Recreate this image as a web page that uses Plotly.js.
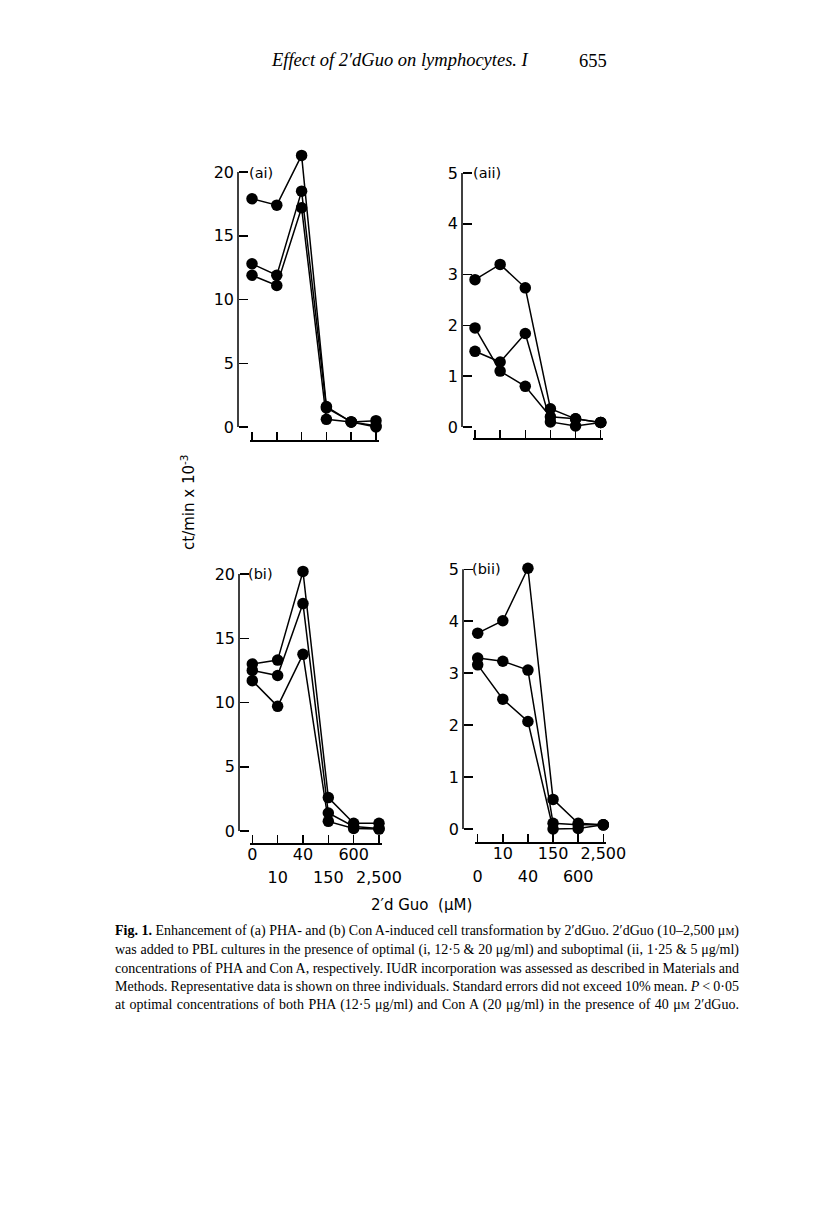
<!DOCTYPE html>
<html><head><meta charset="utf-8">
<script src="https://cdn.plot.ly/plotly-3.0.1.min.js"></script>
<style>html,body{margin:0;padding:0;background:#fff;} #chart{width:816px;height:1220px;}</style>
</head><body><div id="chart"></div>
<script>
// ---- data ----
const concLabels = ["0", "10", "40", "150", "600", "2,500"];
const aiA  = [17.9, 17.4, 21.3, 1.6, 0.4, 0.5];
const aiB  = [12.8, 11.9, 18.5, 1.5, 0.4, 0.1];
const aiC  = [11.9, 11.1, 17.2, 0.6, 0.4, 0.0];
const aiiA = [2.9, 3.2, 2.74, 0.36, 0.16, 0.09];
const aiiB = [1.95, 1.1, 0.8, 0.2, 0.16, 0.09];
const aiiC = [1.49, 1.28, 1.84, 0.1, 0.02, 0.09];
const biA  = [13.0, 13.3, 20.2, 2.6, 0.6, 0.6];
const biB  = [12.5, 12.1, 17.7, 1.4, 0.35, 0.2];
const biC  = [11.7, 9.7, 13.75, 0.75, 0.2, 0.15];
const biiA = [3.77, 4.01, 5.02, 0.57, 0.11, 0.08];
const biiB = [3.29, 3.23, 3.06, 0.11, 0.08, 0.08];
const biiC = [3.16, 2.5, 2.07, 0.0, 0.01, 0.08];
const yTicksI  = [0, 5, 10, 15, 20];
const yTicksII = [0, 1, 2, 3, 4, 5];
const panelNames = ["(ai)", "(aii)", "(bi)", "(bii)"];

// ---- layout helpers ----
const W = 816, H = 1220;
const fx = p => p / W;
const fy = p => 1 - p / H;
const xIdx = concLabels.map((_, i) => i);
const EVEN = [0, 2, 4], ODD = [1, 3, 5];
const HEAD = 1.12, PADPX = 2.5;
const TICKFONT = {family: 'DejaVu Sans, sans-serif', size: 16, color: '#000'};

const geo = {
  ai:  {xL: 252,   xR: 376,   y0: 427, yTop: 172,   yAx: 238, xAx: 440},
  aii: {xL: 475,   xR: 600.7, y0: 427, yTop: 173,   yAx: 462, xAx: 438},
  bi:  {xL: 252.3, xR: 379,   y0: 831, yTop: 574,   yAx: 239, xAx: 843.3},
  bii: {xL: 477.7, xR: 603.3, y0: 829, yTop: 569.3, yAx: 463, xAx: 842.3}
};

function xRangeDomain(g) {
  const n = xIdx.length - 1, k = (g.xR - g.xL) / n, e = PADPX / k;
  return {range: [-e, n + e], domain: [fx(g.xL - PADPX), fx(g.xR + PADPX)]};
}
function xAxis(g) {
  const rd = xRangeDomain(g);
  return {
    domain: rd.domain, range: rd.range,
    anchor: 'free', position: fy(g.xAx),
    showline: true, linecolor: '#000', linewidth: 1.5,
    ticks: 'inside', ticklen: 8, tickwidth: 1.5, tickcolor: '#000',
    tickmode: 'array', tickvals: xIdx, showticklabels: false,
    showgrid: false, zeroline: false, fixedrange: true
  };
}
function xLabels(base, g, showIdx, drop) {
  const rd = xRangeDomain(g);
  return {
    overlaying: base, range: rd.range,
    anchor: 'free', position: fy(g.xAx + drop),
    showline: false, ticks: '', tickmode: 'array',
    tickvals: showIdx, ticktext: showIdx.map(i => concLabels[i]),
    tickfont: TICKFONT, showgrid: false, zeroline: false, fixedrange: true, visible: true
  };
}
function yAxis(g, ticks) {
  const top = ticks[ticks.length - 1], k = (g.y0 - g.yTop) / top;
  const lo = -PADPX / k, hi = top * HEAD;
  return {
    domain: [fy(g.y0 + PADPX), fy(g.y0 - hi * k)], range: [lo, hi],
    anchor: 'free', position: fx(g.yAx),
    showline: false, ticks: 'inside', ticklen: 9, tickwidth: 1.5, tickcolor: '#000',
    tickmode: 'array', tickvals: ticks, tickfont: TICKFONT, ticklabelstandoff: 4,
    showgrid: false, zeroline: false, fixedrange: true
  };
}
function yLine(yref, g, ticks) {
  return {type: 'line', xref: 'paper', yref: yref, x0: fx(g.yAx), x1: fx(g.yAx),
          y0: ticks[0], y1: ticks[ticks.length - 1], line: {color: '#000', width: 1.5}};
}
function series(ys, xa, ya) {
  return {x: xIdx, y: ys, xaxis: xa, yaxis: ya, type: 'scatter', mode: 'lines+markers',
          line: {color: '#000', width: 1.5}, marker: {color: '#000', size: 11.5},
          cliponaxis: false, hoverinfo: 'skip', showlegend: false};
}
function dummy(xa, ya) {
  return {x: [], y: [], xaxis: xa, yaxis: ya, type: 'scatter', mode: 'markers', showlegend: false, hoverinfo: 'skip'};
}

const traces = [
  series(aiA, 'x', 'y'), series(aiB, 'x', 'y'), series(aiC, 'x', 'y'),
  series(aiiA, 'x2', 'y2'), series(aiiB, 'x2', 'y2'), series(aiiC, 'x2', 'y2'),
  series(biA, 'x3', 'y3'), series(biB, 'x3', 'y3'), series(biC, 'x3', 'y3'),
  series(biiA, 'x4', 'y4'), series(biiB, 'x4', 'y4'), series(biiC, 'x4', 'y4'),
  dummy('x5', 'y3'), dummy('x6', 'y3'), dummy('x7', 'y4'), dummy('x8', 'y4')
];

const serif = 'Liberation Serif, Times New Roman, serif';
const sans = 'DejaVu Sans, sans-serif';
function txt(text, x, y, opts) {
  return Object.assign({text: text, xref: 'paper', yref: 'paper', x: fx(x), y: fy(y),
    xanchor: 'left', yanchor: 'middle', align: 'left', showarrow: false,
    font: {family: sans, size: 14, color: '#000'}}, opts || {});
}
const mu = 'μ';
const smM = "<span style='font-size:10px'>M</span>";
const captionLines = [
  "<b>Fig. 1.</b> Enhancement of (a) PHA- and (b) Con A-induced cell transformation by 2′dGuo. 2′dGuo (10–2,500 " + mu + smM + ")",
  "was added to PBL cultures in the presence of optimal (i, 12·5 &amp; 20 " + mu + "g/ml) and suboptimal (ii, 1·25 &amp; 5 " + mu + "g/ml)",
  "concentrations of PHA and Con A, respectively. IUdR incorporation was assessed as described in Materials and",
  "Methods. Representative data is shown on three individuals. Standard errors did not exceed 10% mean. <i>P</i> &lt; 0·05",
  "at optimal concentrations of both PHA (12·5 " + mu + "g/ml) and Con A (20 " + mu + "g/ml) in the presence of 40 " + mu + smM + " 2′dGuo."
];
const capY = [931, 949.5, 968, 986.5, 1005];
const capLeft = 113, capRight = 737;

const annotations = [
  txt("<i>Effect of 2′dGuo on lymphocytes. I</i>", 400, 60, {xanchor: 'center', align: 'center', font: {family: serif, size: 18.5, color: '#000'}}),
  txt("655", 593, 61, {xanchor: 'center', align: 'center', font: {family: serif, size: 18.5, color: '#000'}}),
  txt(panelNames[0], 247, 173, {font: {family: sans, size: 14.5, color: '#000'}}),
  txt(panelNames[1], 471, 173, {font: {family: sans, size: 14.5, color: '#000'}}),
  txt(panelNames[2], 246, 574, {font: {family: sans, size: 14.5, color: '#000'}}),
  txt(panelNames[3], 470, 569, {font: {family: sans, size: 14.5, color: '#000'}}),
  txt("ct/min x 10<sup>-3</sup>", 188, 503, {xanchor: 'center', align: 'center', textangle: -90, font: {family: sans, size: 15, color: '#000'}}),
  txt("2′d Guo  (" + mu + "M)", 421, 905, {xanchor: 'center', align: 'center', font: {family: sans, size: 15, color: '#000'}})
];
const capStart = annotations.length;
captionLines.forEach((t, i) => annotations.push(txt(t, capLeft, capY[i], {font: {family: serif, size: 14, color: '#000'}})));

const layout = {
  width: W, height: H, autosize: false,
  margin: {l: 0, r: 0, t: 0, b: 0, pad: 0},
  paper_bgcolor: '#fff', plot_bgcolor: 'rgba(0,0,0,0)',
  showlegend: false, hovermode: false,
  xaxis:  xAxis(geo.ai),
  xaxis2: xAxis(geo.aii),
  xaxis3: xAxis(geo.bi),
  xaxis4: xAxis(geo.bii),
  xaxis5: xLabels('x3', geo.bi, EVEN, 0),
  xaxis6: xLabels('x3', geo.bi, ODD, 23),
  xaxis7: xLabels('x4', geo.bii, ODD, 0),
  xaxis8: xLabels('x4', geo.bii, EVEN, 23),
  yaxis:  yAxis(geo.ai, yTicksI),
  yaxis2: yAxis(geo.aii, yTicksII),
  yaxis3: yAxis(geo.bi, yTicksI),
  yaxis4: yAxis(geo.bii, yTicksII),
  shapes: [yLine('y', geo.ai, yTicksI), yLine('y2', geo.aii, yTicksII),
           yLine('y3', geo.bi, yTicksI), yLine('y4', geo.bii, yTicksII)],
  annotations: annotations
};

function justifyCaption(gd) {
  const target = capRight - capLeft;
  captionLines.forEach((_, i) => {
    const t = gd.querySelector('.annotation[data-index="' + (capStart + i) + '"] text.annotation-text');
    if (!t) return;
    const w = t.getComputedTextLength();
    const spaces = (t.textContent.match(/ /g) || []).length;
    if (spaces > 0) t.style.wordSpacing = ((target - w) / spaces).toFixed(2) + 'px';
  });
}

Plotly.newPlot('chart', traces, layout, {staticPlot: true, displayModeBar: false})
  .then(justifyCaption);
</script>
</body></html>
